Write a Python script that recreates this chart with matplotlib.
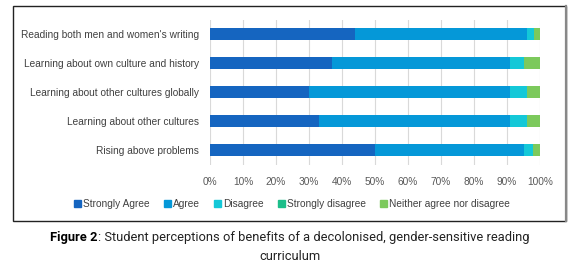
import matplotlib
matplotlib.use("Agg")
import matplotlib.pyplot as plt
from matplotlib.patches import Patch, Rectangle
from matplotlib.lines import Line2D
import numpy as np

categories = ["Rising above problems",
              "Learning about other cultures",
              "Learning about other cultures globally",
              "Learning about own culture and history",
              "Reading both men and women's writing"]
series_names = ["Strongly Agree", "Agree", "Disagree", "Strongly disagree",
                "Neither agree nor disagree"]
strongly_agree = [50, 33, 30, 37, 44]
agree = [45, 58, 61, 54, 52]
disagree = [3, 5, 5, 4, 2.3]
strongly_disagree = [0, 0, 0, 0, 0]
neither = [2, 4, 4.5, 5, 2]
xticks = [0, 10, 20, 30, 40, 50, 60, 70, 80, 90, 100]
colors = ["#1565c0", "#0598d8", "#14c8d8", "#1dbe8a", "#7cc95c"]

W, H = 580, 267
fig = plt.figure(figsize=(W / 100, H / 100), dpi=100)
font = "Liberation Sans"
lfs = 7.3

ax = fig.add_axes([210 / W, 1 - 164.5 / H, 330 / W, 145 / H])
y = np.arange(len(categories))
left = np.zeros(len(categories))
for vals, c, name in zip([strongly_agree, agree, disagree, strongly_disagree, neither],
                         colors, series_names):
    v = np.array(vals, dtype=float)
    ax.barh(y, v, left=left, height=0.42, color=c, label=name, zorder=3)
    left += v

ax.set_xlim(0, 100)
ax.set_ylim(-0.5, len(categories) - 0.5)
ax.set_xticks(xticks)
ax.set_xticklabels([f"{t}%" for t in xticks], fontsize=lfs, color="#595959", family=font)
ax.set_yticks(y)
ax.set_yticklabels(categories, fontsize=lfs, color="#404040", family=font)
ax.tick_params(length=0, pad=8)
ax.tick_params(axis="x", pad=9)
for s in ax.spines.values():
    s.set_visible(False)
ax.grid(axis="x", color="#d9d9d9", lw=0.8, zorder=0)
ax.set_axisbelow(True)

handles = [Patch(color=c, label=n) for c, n in zip(colors, series_names)]
fig.legend(handles=handles, loc="center", bbox_to_anchor=(292 / W, 1 - 204 / H),
           ncol=5, frameon=False, handlelength=0.7, handleheight=0.7,
           handletextpad=0.2, columnspacing=1.4,
           prop={"family": font, "size": lfs}, labelcolor="#404040")

# border
fig.add_artist(Rectangle((13 / W, 1 - 221 / H), 553 / W, 215 / H,
                         transform=fig.transFigure, fill=False, ec="#222222", lw=1.0))
fig.add_artist(Line2D([566 / W, 566 / W], [1 - 221 / H, 1 - 6 / H],
                      transform=fig.transFigure, color="#888888", lw=1.6))

# caption
fs = 9.3
cfont = "Roboto"
t1 = fig.text(0, 1 - 237 / H, "Figure 2", weight="bold", fontsize=fs,
              family=cfont, va="center", ha="left", color="black")
t2 = fig.text(0, 1 - 237 / H, ": Student perceptions of benefits of a decolonised, gender-sensitive reading",
              fontsize=fs, family=cfont, va="center", ha="left", color="#222222")
fig.canvas.draw()
r = fig.canvas.get_renderer()
w1 = t1.get_window_extent(r).width
w2 = t2.get_window_extent(r).width
x0 = (W / 2 - (w1 + w2) / 2) / W
t1.set_x(x0)
t2.set_x(x0 + w1 / W)
fig.text(0.5, 1 - 256 / H, "curriculum", fontsize=fs, family=cfont, va="center",
         ha="center", color="#222222")

fig.savefig("out.png", dpi=100)
